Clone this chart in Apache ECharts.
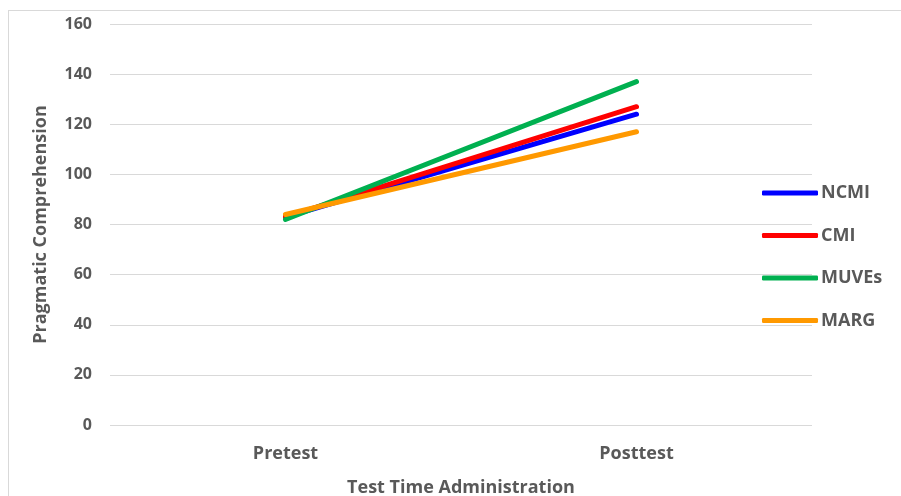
<!DOCTYPE html>
<html><head><meta charset="utf-8">
<script src="https://cdn.jsdelivr.net/npm/echarts@6/dist/echarts.min.js"></script>
<style>html,body{margin:0;padding:0;background:#fff;overflow:hidden;width:901px;height:496px}#c{position:absolute;left:0;top:0;width:901px;height:496px}
#b{position:absolute;left:8px;top:10px;width:893px;height:486px;border-left:1px solid #d9d9d9;border-top:1px solid #d9d9d9;box-sizing:border-box;pointer-events:none}</style>
</head><body><div id="c"></div><div id="b"></div>
<script>
const categories = ['Pretest', 'Posttest'];
const seriesNames = ['NCMI', 'CMI', 'MUVEs', 'MARG'];
const ncmi = [83, 124];
const cmi = [83, 127];
const muves = [82, 137];
const marg = [84, 117];
const yTicks = [0, 20, 40, 60, 80, 100, 120, 140, 160];
const colors = ['#0000ff', '#ff0000', '#00b050', '#ff9900'];
const values = [ncmi, cmi, muves, marg];
const font = 'Open Sans';
const chart = echarts.init(document.getElementById('c'));
chart.setOption({
  animation: false,
  grid: {left: 110, right: 89, top: 24, bottom: 71, containLabel: false, outerBoundsMode: 'none'},
  legend: {
    orient: 'vertical', left: 762, top: 184, itemGap: 24.5, padding: 0,
    itemWidth: 56, itemHeight: 5, icon: 'roundRect',
    textStyle: {fontFamily: font, fontWeight: 'bold', fontSize: 18, color: '#595959', padding: [0,0,0,-2]},
    data: seriesNames
  },
  xAxis: {
    type: 'category', data: categories, boundaryGap: true,
    axisLine: {show: false}, axisTick: {show: false},
    axisLabel: {fontFamily: font, fontWeight: 'bold', fontSize: 18, color: '#595959', margin: 20},
    name: 'Test Time Administration', nameLocation: 'middle', nameGap: 54,
    nameTextStyle: {fontFamily: font, fontWeight: 'bold', fontSize: 18, color: '#595959'}
  },
  yAxis: {
    type: 'value', min: yTicks[0], max: yTicks[yTicks.length-1], interval: 20,
    axisLine: {show: false}, axisTick: {show: false},
    splitLine: {lineStyle: {color: '#d9d9d9', width: 1}},
    axisLabel: {fontFamily: font, fontWeight: 'bold', fontSize: 16, color: '#595959', margin: 18},
    name: 'Pragmatic Comprehension', nameLocation: 'middle', nameGap: 60,
    nameTextStyle: {fontFamily: font, fontWeight: 'bold', fontSize: 18, color: '#595959'}
  },
  series: seriesNames.map((n, i) => ({
    name: n, type: 'line', data: values[i], showSymbol: false, symbol: 'none',
    color: colors[i],
    lineStyle: {width: 5, color: colors[i], cap: 'round'}
  }))
});
</script></body></html>
